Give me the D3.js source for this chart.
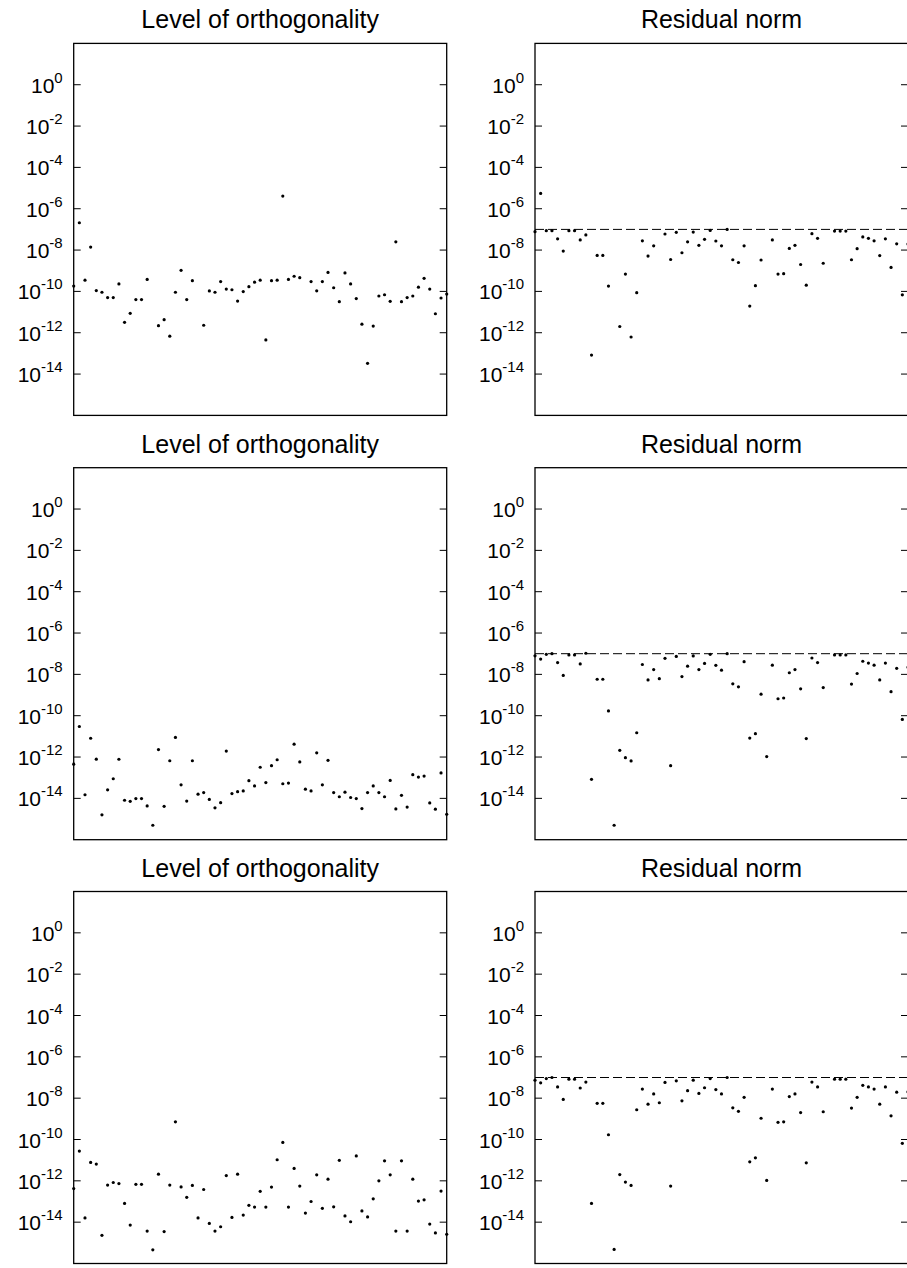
<!DOCTYPE html>
<html>
<head>
<meta charset="utf-8">
<script src="https://cdn.jsdelivr.net/npm/d3@7"></script>
<style>
  body { margin: 0; background: #fff; }
  text { font-family: "Liberation Sans", Arial, sans-serif; fill: #000; }
</style>
</head>
<body>
<svg id="chart"></svg>
<script>
// iteration numbers (x positions)
var iters = d3.range(0, 67);

// tick exponents shown on the y axes
var tickExps = [0, -2, -4, -6, -8, -10, -12, -14];

var titles = ["Level of orthogonality", "Residual norm"];

// residual tolerance (dashed line)
var tolerance = 1e-7;

// row 1
var orthoA = [1.8e-10, 2.1e-7, 3.5e-10, 1.4e-8, 1.1e-10, 9.1e-11, 5.0e-11, 5.0e-11, 2.3e-10, 3.2e-12,
  8.7e-12, 4.0e-11, 4.0e-11, 3.8e-10, null, 2.2e-12, 4.3e-12, 6.8e-13, 9.1e-11, 1.05e-9,
  4.0e-11, 3.3e-10, null, 2.3e-12, 1.05e-10, 9.1e-11, 3.0e-10, 1.3e-10, 1.2e-10, 3.4e-11,
  9.8e-11, 1.7e-10, 2.8e-10, 3.5e-10, 4.5e-13, 3.3e-10, 3.5e-10, 4.1e-6, 3.8e-10, 5.4e-10,
  4.6e-10, null, 3.0e-10, 1.07e-10, 3.0e-10, 8.3e-10, 1.5e-10, 3.2e-11, 7.8e-10, 2.3e-10,
  4.5e-11, 2.6e-12, 3.3e-14, 2.1e-12, 6.0e-11, 6.9e-11, 3.3e-11, 2.5e-8, 3.2e-11, 5.0e-11,
  6.0e-11, 1.6e-10, 4.3e-10, 1.3e-10, 8.3e-12, 4.8e-11, 7.4e-11];

var resA = [7.8e-8, 5.5e-6, 8.7e-8, 8.7e-8, 3.5e-8, 8.9e-9, 8.7e-8, 8.7e-8, 3.1e-8, 5.4e-8,
  8.3e-14, 5.5e-9, 5.5e-9, 1.8e-10, null, 2.0e-12, 6.9e-10, 6.2e-13, 8.7e-11, 2.8e-8,
  5.1e-9, 1.6e-8, null, 6.0e-8, 3.5e-9, 7.2e-8, 7.4e-9, 2.5e-8, 7.4e-8, 1.7e-8,
  3.3e-8, 8.9e-8, 2.75e-8, 1.6e-8, 1.0e-7, 3.4e-9, 2.5e-9, 1.6e-8, 1.95e-11, 1.9e-10,
  3.3e-9, null, 3.1e-8, 6.9e-10, 7.2e-10, 1.2e-8, 1.7e-8, 2.0e-9, 2.0e-10, 6.2e-8,
  3.7e-8, 2.3e-9, null, 8.3e-8, 8.3e-8, 8.3e-8, 3.4e-9, 1.17e-8, 4.3e-8, 3.7e-8,
  2.8e-8, 5.4e-9, 3.5e-8, 1.45e-9, 2.0e-8, 6.8e-11, 1.95e-8];

// row 2
var orthoB = [4.5e-13, 3.0e-11, 1.5e-14, 8.1e-12, 7.9e-13, 1.6e-15, 2.6e-14, 8.9e-14, 7.8e-13, 8.1e-15,
  7.2e-15, 9.8e-15, 9.8e-15, 4.3e-15, 5.0e-16, 2.3e-12, 4.1e-15, 6.6e-13, 8.9e-12, 4.5e-14,
  7.4e-15, 6.6e-13, 1.6e-14, 1.9e-14, 8.9e-15, 3.5e-15, 6.2e-15, 1.95e-12, 1.7e-14, 2.1e-14,
  2.3e-14, 7.2e-14, 4.0e-14, 3.2e-13, 5.8e-14, 3.8e-13, 7.4e-13, 5.1e-14, 5.5e-14, 4.2e-12,
  5.8e-13, 2.8e-14, 2.3e-14, 1.6e-12, 4.5e-14, 6.9e-13, 1.9e-14, 1.2e-14, 2.0e-14, 1.1e-14,
  9.8e-15, 3.2e-15, 1.9e-14, 4.0e-14, 1.9e-14, 1.2e-14, 7.4e-14, 3.1e-15, 1.4e-14, 3.8e-15,
  1.4e-13, 1.07e-13, 1.2e-13, 6.0e-15, 3.0e-15, 1.7e-13, 1.7e-15];

var resB = [7.9e-8, 5.5e-8, 9.3e-8, 1.0e-7, 3.7e-8, 8.9e-9, 8.7e-8, 8.7e-8, 3.2e-8, 1.05e-7,
  8.3e-14, 5.8e-9, 5.8e-9, 1.7e-10, 5.0e-16, 2.1e-12, 9.3e-13, 6.5e-13, 1.5e-11, 3.0e-8,
  5.4e-9, 1.7e-8, 6.2e-9, 6.0e-8, 3.8e-13, 7.4e-8, 7.8e-9, 2.5e-8, 7.8e-8, 1.7e-8,
  3.4e-8, 9.3e-8, 2.75e-8, 1.6e-8, 1.0e-7, 3.5e-9, 2.5e-9, 4.1e-8, 8.3e-12, 1.35e-11,
  1.1e-9, 1.05e-12, 2.8e-8, 6.6e-10, 7.2e-10, 1.2e-8, 1.7e-8, 2.0e-9, 7.8e-12, 6.2e-8,
  3.7e-8, 2.3e-9, null, 8.7e-8, 8.7e-8, 8.7e-8, 3.4e-9, 1.1e-8, 4.3e-8, 3.5e-8,
  2.8e-8, 5.4e-9, 3.5e-8, 1.45e-9, 1.95e-8, 6.6e-11, 2.2e-8];

// row 3
var orthoC = [4.2e-13, 2.75e-11, 1.6e-14, 7.8e-12, 6.5e-12, 2.3e-15, 6.2e-13, 8.3e-13, 7.4e-13, 8.1e-14,
  7.2e-15, 6.8e-13, 6.8e-13, 3.7e-15, 4.6e-16, 2.1e-12, 3.5e-15, 6.2e-13, 7.2e-10, 5.1e-13,
  1.6e-13, 6.0e-13, 1.6e-14, 3.8e-13, 8.7e-15, 3.7e-15, 6.0e-15, 1.8e-12, 1.7e-14, 2.1e-12,
  2.2e-14, 6.5e-14, 5.4e-14, 3.1e-13, 5.4e-14, 5.0e-13, 1.05e-11, 7.2e-11, 5.4e-14, 4.0e-12,
  5.6e-13, 2.75e-14, 1.0e-13, 1.95e-12, 4.7e-14, 1.2e-12, 5.5e-14, 9.8e-12, 2.0e-14, 1.05e-14,
  1.6e-11, 3.5e-14, 1.8e-14, 1.35e-13, 1.0e-12, 9.3e-12, 1.95e-12, 3.7e-15, 9.3e-12, 3.7e-15,
  1.2e-12, 1.05e-13, 1.2e-13, 8.1e-15, 3.0e-15, 3.2e-13, 2.6e-15];

var resC = [7.4e-8, 5.5e-8, 8.9e-8, 1.0e-7, 3.5e-8, 8.7e-9, 8.3e-8, 8.3e-8, 3.1e-8, 6.0e-8,
  8.1e-14, 5.6e-9, 5.6e-9, 1.7e-10, 4.8e-16, 2.0e-12, 8.7e-13, 6.0e-13, 2.75e-9, 2.75e-8,
  5.1e-9, 1.6e-8, 6.0e-9, 5.8e-8, 5.6e-13, 6.9e-8, 7.4e-9, 2.3e-8, 7.4e-8, 1.7e-8,
  3.2e-8, 8.9e-8, 2.6e-8, 1.6e-8, 1.0e-7, 3.4e-9, 2.3e-9, 1.1e-8, 8.3e-12, 1.3e-11,
  1.07e-9, 1.05e-12, 2.75e-8, 6.8e-10, 7.2e-10, 1.2e-8, 1.6e-8, 2.0e-9, 7.4e-12, 6.0e-8,
  3.5e-8, 2.2e-9, null, 8.3e-8, 8.3e-8, 8.3e-8, 3.3e-9, 1.1e-8, 4.2e-8, 3.5e-8,
  2.75e-8, 5.1e-9, 3.5e-8, 1.4e-9, 1.95e-8, 6.5e-11, 2.0e-8];

var rows = [[orthoA, resA], [orthoB, resB], [orthoC, resC]];

var svgWidth = 907, svgHeight = 1268;
var panelW = 373, panelH = 372;
var colX = [73.7, 535];
var rowY = [43.4, 467.7, 891.5];

var svg = d3.select("#chart")
    .attr("width", svgWidth)
    .attr("height", svgHeight);

var x = d3.scaleLinear()
    .domain([0, 66])
    .range([0, panelW]);

var y = d3.scaleLog()
    .domain([1e-16, 1e2])
    .range([panelH, 0]);

rows.forEach(function(row, r) {
    row.forEach(function(series, c) {
        var g = svg.append("g")
            .attr("transform", "translate(" + colX[c] + "," + rowY[r] + ")");

        // title
        g.append("text")
            .attr("x", panelW / 2)
            .attr("y", -15)
            .attr("text-anchor", "middle")
            .style("font-size", "25px")
            .text(titles[c]);

        // frame
        g.append("rect")
            .attr("width", panelW)
            .attr("height", panelH)
            .attr("fill", "none")
            .attr("stroke", "#000")
            .attr("stroke-width", 1.3);

        // ticks on both sides, pointing inward
        tickExps.forEach(function(e) {
            var ty = y(Math.pow(10, e));
            g.append("line")
                .attr("x1", 0).attr("x2", 7)
                .attr("y1", ty).attr("y2", ty)
                .attr("stroke", "#000");
            g.append("line")
                .attr("x1", panelW - 7).attr("x2", panelW)
                .attr("y1", ty).attr("y2", ty)
                .attr("stroke", "#000");

            var lbl = g.append("text")
                .attr("x", -11)
                .attr("y", ty + 8)
                .attr("text-anchor", "end")
                .style("font-size", "21px");
            lbl.append("tspan").text("10");
            lbl.append("tspan")
                .attr("dy", -10)
                .style("font-size", "15px")
                .text(e);
        });

        // dashed tolerance line on residual panels
        if (c == 1) {
            g.append("line")
                .attr("x1", 0).attr("x2", panelW)
                .attr("y1", y(tolerance)).attr("y2", y(tolerance))
                .attr("stroke", "#000")
                .attr("stroke-width", 1)
                .attr("stroke-dasharray", "9,4");
        }

        var pts = iters.map(function(it, i) { return { it: it, v: series[i] }; })
            .filter(function(d) { return d.v != null; });

        g.selectAll("circle")
            .data(pts)
            .enter().append("circle")
            .attr("cx", function(d) { return x(d.it); })
            .attr("cy", function(d) { return y(d.v); })
            .attr("r", 1.6)
            .attr("fill", "#000");
    });
});
</script>
</body>
</html>
